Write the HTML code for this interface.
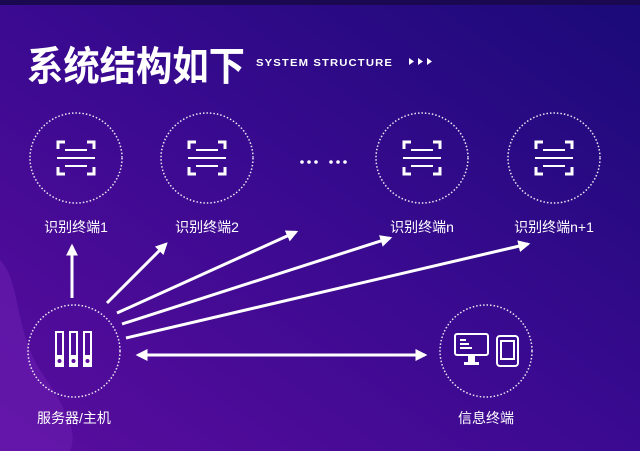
<!DOCTYPE html>
<html><head><meta charset="utf-8"><style>
html,body{margin:0;padding:0;width:640px;height:451px;overflow:hidden;background:#2a0a8a}
svg{display:block}
text{font-family:"Liberation Sans","Noto Sans CJK SC",sans-serif;fill:#fff}
</style></head><body>
<svg width="640" height="451" viewBox="0 0 640 451" xmlns="http://www.w3.org/2000/svg">
<defs>
<linearGradient id="bg" x1="0" y1="1" x2="1" y2="0">
<stop offset="0" stop-color="#5a0c9e"/>
<stop offset="0.5" stop-color="#3a0a90"/>
<stop offset="1" stop-color="#1a0a78"/>
</linearGradient>
<g id="scan" fill="none" stroke="#fff" stroke-width="3">
<path d="M-11,-16 H-18 V-9 M11,-16 H18 V-9 M-18,9 V16 H-11 M18,9 V16 H11"/>
<path d="M-11,-8 H11 M-19,0 H19 M-11,8 H11" stroke-width="2"/>
</g>
<marker id="ah" viewBox="0 0 10 10" refX="8" refY="5" markerWidth="4" markerHeight="4" orient="auto-start-reverse"><path d="M0,0 L10,5 L0,10 Z" fill="#fff"/></marker>
</defs>
<rect width="640" height="451" fill="url(#bg)"/>
<rect width="640" height="5" fill="#1a0850"/>
<path d="M0,260 C20,280 15,330 40,370 C60,400 80,430 70,451 L0,451 Z" fill="#6a1eb0" opacity="0.6"/>
<text x="27" y="80" font-size="40" font-weight="bold" textLength="218" lengthAdjust="spacingAndGlyphs">系统结构如下</text>
<text x="256" y="66" font-size="10" font-weight="bold" letter-spacing="1" textLength="137" lengthAdjust="spacingAndGlyphs">SYSTEM STRUCTURE</text>
<path d="M409,58 l5,3.5 l-5,3.5Z M418,58 l5,3.5 l-5,3.5Z M427,58 l5,3.5 l-5,3.5Z" fill="#fff"/>
<g fill="none" stroke="#fff" stroke-width="1.5" stroke-dasharray="1.5 2" opacity="0.9">
<ellipse cx="76" cy="158" rx="46" ry="45"/>
<ellipse cx="207" cy="158" rx="46" ry="45"/>
<ellipse cx="422" cy="158" rx="46" ry="45"/>
<ellipse cx="554" cy="158" rx="46" ry="45"/>
<ellipse cx="74" cy="351" rx="46" ry="46"/>
<ellipse cx="486" cy="351" rx="46" ry="46"/>
</g>
<use href="#scan" x="76" y="158"/>
<use href="#scan" x="207" y="158"/>
<use href="#scan" x="422" y="158"/>
<use href="#scan" x="554" y="158"/>
<g fill="#fff">
<circle cx="302" cy="162" r="1.8"/><circle cx="309" cy="162" r="1.8"/><circle cx="316" cy="162" r="1.8"/>
<circle cx="331" cy="162" r="1.8"/><circle cx="338" cy="162" r="1.8"/><circle cx="345" cy="162" r="1.8"/>
</g>
<g font-size="14" text-anchor="middle">
<text x="76" y="232">识别终端1</text>
<text x="207" y="232">识别终端2</text>
<text x="422" y="232">识别终端n</text>
<text x="554" y="232">识别终端n+1</text>
<text x="74" y="423">服务器/主机</text>
<text x="486" y="423">信息终端</text>
</g>
<g fill="none" stroke="#fff" stroke-width="2">
<rect x="56" y="332" width="7" height="34"/>
<rect x="70" y="332" width="7" height="34"/>
<rect x="84" y="332" width="7" height="34"/>
</g>
<g fill="#fff"><rect x="55" y="355" width="9" height="12"/><rect x="69" y="355" width="9" height="12"/><rect x="83" y="355" width="9" height="12"/></g>
<g fill="#5a0c9e"><circle cx="59.5" cy="361" r="2"/><circle cx="73.5" cy="361" r="2"/><circle cx="87.5" cy="361" r="2"/></g>
<g fill="none" stroke="#fff" stroke-width="2">
<rect x="455" y="334" width="33" height="21" rx="2"/>
<rect x="497" y="336" width="21" height="30" rx="3"/>
<rect x="501" y="341" width="13" height="18"/>
<path d="M460,340 H466 M460,344 H469 M460,348 H472"/>
</g>
<rect x="468" y="356" width="7" height="7" fill="#fff"/>
<rect x="464" y="362" width="15" height="3" fill="#fff"/>
<g stroke="#fff" stroke-width="3" fill="none" marker-end="url(#ah)">
<line x1="72" y1="298" x2="72" y2="246"/>
<line x1="107" y1="303" x2="166" y2="244"/>
<line x1="117" y1="313" x2="296" y2="232"/>
<line x1="122" y1="324" x2="390" y2="238"/>
<line x1="126" y1="338" x2="528" y2="244"/>
<line x1="138" y1="355" x2="425" y2="355" marker-start="url(#ah)"/>
</g>
</svg>
</body></html>
